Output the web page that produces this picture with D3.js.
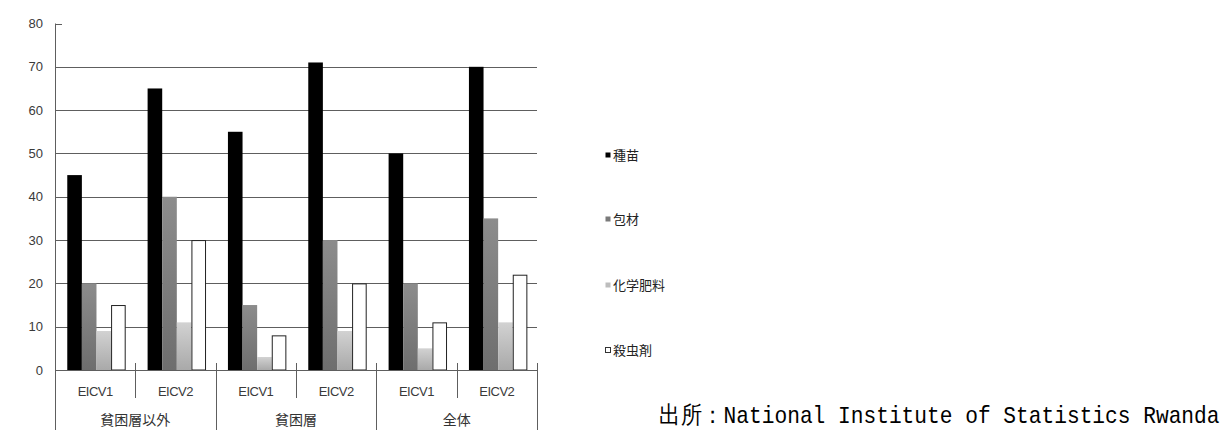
<!DOCTYPE html>
<html>
<head>
<meta charset="utf-8">
<script src="https://cdn.jsdelivr.net/npm/d3@7"></script>
<style>
  html, body { margin: 0; padding: 0; background: #fff; }
  svg { display: block; }
</style>
</head>
<body>
<svg id="chart" width="1226" height="430"></svg>
<script>
// Input cost shares by household group and survey round
const groups = ["貧困層以外", "貧困層", "全体"];
const surveys = ["EICV1", "EICV2"];
const seriesNames = ["種苗", "包材", "化学肥料", "殺虫剤"];
const seeds      = [45, 65, 55, 71, 50, 70];
const packaging  = [20, 40, 15, 30, 20, 35];
const fertilizer = [9, 11, 3, 9, 5, 11];
const pesticide  = [15, 30, 8, 20, 11, 22];
const yTicks = [0, 10, 20, 30, 40, 50, 60, 70, 80];
const sourceNote = "出所：National Institute of Statistics Rwanda";

(function draw() {
  const seriesValues = [seeds, packaging, fertilizer, pesticide];
  const slots = [];
  groups.forEach(g => surveys.forEach(s => slots.push(g + "|" + s)));

  const svg = d3.select("#chart");
  const plotLeft = 55, plotRight = 537, plotTop = 23.5, base = 370, plotBottom = 430;

  const defs = svg.append("defs");
  function grad(id, c1, c2) {
    const lg = defs.append("linearGradient").attr("id", id)
      .attr("x1", 0).attr("y1", 0).attr("x2", 0).attr("y2", 1);
    lg.append("stop").attr("offset", "0%").attr("stop-color", c1);
    lg.append("stop").attr("offset", "100%").attr("stop-color", c2);
  }
  grad("gPack", "#8c8c8c", "#6e6e6e");
  grad("gFert", "#d2d2d2", "#a9a9a9");

  const fills = ["#000", "url(#gPack)", "url(#gFert)", "#fff"];
  const legendFills = ["#000", "#7a7a7a", "#bdbdbd", "#fff"];

  const y = d3.scaleLinear().domain([0, 80]).range([base, plotTop]);
  const x0 = d3.scaleBand().domain(slots).range([plotLeft, plotRight]).padding(0);
  const x1 = d3.scaleBand().domain(seriesNames)
    .range([0, x0.bandwidth()]).paddingOuter(0.75).paddingInner(0).align(0.56);

  // Horizontal gridlines
  svg.append("g").selectAll("line").data(yTicks.filter(t => t > 0 && t < 80)).join("line")
    .attr("x1", plotLeft).attr("x2", plotRight)
    .attr("y1", d => Math.round(y(d)) + 0.5).attr("y2", d => Math.round(y(d)) + 0.5)
    .attr("stroke", "#5e5e5e").attr("stroke-width", 1);
  // short tick at the top of the value axis
  svg.append("line").attr("x1", plotLeft).attr("x2", plotLeft + 7)
    .attr("y1", Math.round(y(80)) + 0.5).attr("y2", Math.round(y(80)) + 0.5)
    .attr("stroke", "#5e5e5e");

  // Y tick labels
  svg.append("g").selectAll("text").data(yTicks).join("text")
    .attr("x", 43).attr("y", d => y(d))
    .attr("dy", "0.35em").attr("text-anchor", "end")
    .attr("font-family", "Liberation Sans, Arial, sans-serif")
    .attr("font-size", 13).attr("fill", "#3a3a3a")
    .text(d => d);

  // Bars
  const barG = svg.append("g");
  slots.forEach((slot, i) => {
    seriesNames.forEach((name, k) => {
      const v = seriesValues[k][i];
      const bx = x0(slot) + x1(name);
      const outlined = k === 3;
      barG.append("rect")
        .attr("x", bx + (outlined ? 0.5 : 0))
        .attr("y", y(v) + (outlined ? 0.5 : 0))
        .attr("width", x1.bandwidth() - (outlined ? 1 : 0))
        .attr("height", base - y(v) - (outlined ? 0.5 : 0))
        .attr("fill", fills[k])
        .attr("stroke", outlined ? "#222" : "none")
        .attr("stroke-width", 1);
    });
  });

  // Axis lines
  svg.append("line").attr("x1", plotLeft + 0.5).attr("x2", plotLeft + 0.5)
    .attr("y1", plotTop).attr("y2", plotBottom).attr("stroke", "#5e5e5e");
  svg.append("line").attr("x1", plotLeft).attr("x2", plotRight)
    .attr("y1", base + 0.5).attr("y2", base + 0.5).attr("stroke", "#5e5e5e");

  // Category dividers: short between rounds, long between groups
  slots.forEach((slot, i) => {
    const xe = Math.round(x0(slot) + x0.bandwidth()) + 0.5;
    const groupEnd = (i % 2 === 1);
    svg.append("line").attr("x1", xe).attr("x2", xe)
      .attr("y1", base - 7).attr("y2", groupEnd ? plotBottom : 398)
      .attr("stroke", "#5e5e5e");
  });

  // Round labels
  svg.append("g").selectAll("text").data(slots).join("text")
    .attr("x", d => x0(d) + x0.bandwidth() / 2).attr("y", 391)
    .attr("dy", "0.35em").attr("text-anchor", "middle")
    .attr("font-family", "Liberation Sans, Arial, sans-serif")
    .attr("font-size", 13).attr("fill", "#3a3a3a").attr("letter-spacing", -0.5)
    .text(d => d.split("|")[1]);

  // Group labels
  svg.append("g").selectAll("text").data(groups).join("text")
    .attr("x", d => x0(d + "|" + surveys[0]) + x0.bandwidth())
    .attr("y", 420)
    .attr("dy", "0.35em").attr("text-anchor", "middle")
    .attr("font-family", "Noto Sans CJK JP, sans-serif")
    .attr("font-size", 14).attr("fill", "#333")
    .text(d => d);

  // Legend
  const legendY = [155, 219, 285, 350];
  const lg = svg.append("g");
  seriesNames.forEach((name, k) => {
    lg.append("rect")
      .attr("x", 605.5).attr("y", legendY[k] - 2.5)
      .attr("width", 5).attr("height", 5)
      .attr("fill", legendFills[k])
      .attr("stroke", k === 3 ? "#333" : "none");
    lg.append("text")
      .attr("x", 613).attr("y", legendY[k]).attr("dy", "0.35em")
      .attr("font-family", "Noto Sans CJK JP, sans-serif")
      .attr("font-size", 13).attr("fill", "#222")
      .text(name);
  });

  // Source note: narrow monospaced look, squeezed horizontally to its column
  const note = svg.append("text")
    .attr("x", 0).attr("y", 0)
    .attr("font-family", "Liberation Mono, DejaVu Sans Mono, monospace")
    .attr("font-size", 24).attr("fill", "#000")
    .text(sourceNote);
  const natural = note.node().getComputedTextLength();
  const sx = 560 / natural;
  note.attr("transform", `translate(659,423) scale(${sx},1)`);
})();
</script>
</body>
</html>
